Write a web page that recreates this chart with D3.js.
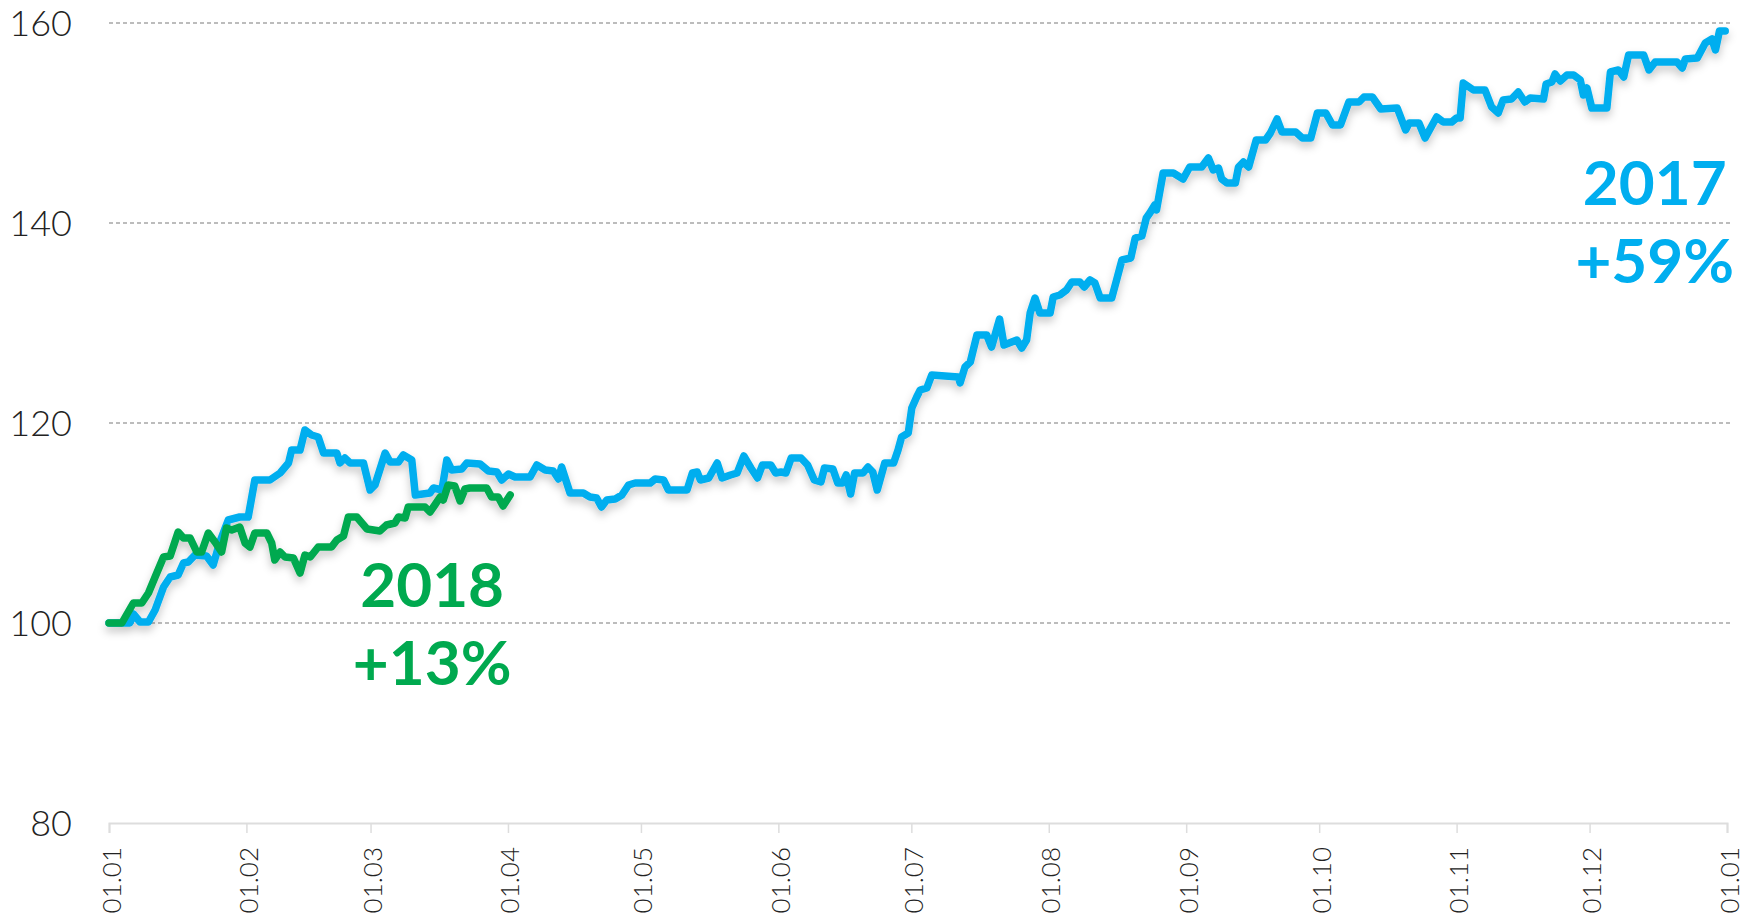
<!DOCTYPE html>
<html>
<head>
<meta charset="utf-8">
<script src="https://cdnjs.cloudflare.com/ajax/libs/d3/7.8.5/d3.min.js"></script>
<style>
  body { margin: 0; background: #fff; }
  svg { display: block; }
</style>
</head>
<body>
<div id="target_area"></div>
<script>
// days counted from 1 January (index, start = 100)
var days2017 = [0, 4.7, 5.5, 7, 8.9, 10.4, 12.3, 13.8, 15.6, 16.8, 17.9, 19.4, 22, 23.5, 25, 26.9, 29.5, 31.4, 32.9, 36.3,
  38.6, 40.5, 41.2, 43.1, 44.2, 45.7, 47.2, 48.4, 51.4, 52.1, 53.2, 54.4, 57.4, 58.9, 60, 62.3, 63.4, 65.3, 66.4, 68.3,
  69.1, 72.4, 73.2, 75.1, 76.2, 77.3, 79.6, 80.7, 83.7, 85.6, 87.5, 88.6, 90.1, 91.6, 95, 96.5, 98.4, 100.2, 101.4, 102.1,
  104, 107, 108.5, 110, 111.1, 112.3, 114.2, 115.7, 117.2, 118.7, 122.1, 123.2, 125.1, 126.2, 130.4, 131.6, 132.7, 133.4, 135.3, 137.2,
  138.3, 140.2, 141.7, 143.2, 144.8, 146.3, 147.4, 149.3, 150.4, 151.6, 152.7, 153.9, 156.1, 157.6, 159.1, 160.6, 161.4, 163.3, 164.4, 165.5,
  166.3, 167.3, 168.2, 170.1, 171.2, 172.3, 173.3, 175, 177, 178, 178.8, 180.3, 181.1, 182.2, 183, 184.5, 185.6, 191.6, 192, 193.1,
  194.3, 195.8, 198, 199.1, 200.9, 201.9, 204.8, 205.9, 207, 207.8, 208.9, 210, 212.3, 213, 214.5, 216, 217.2, 219, 220, 221.3,
  222.4, 223.6, 226.2, 227.3, 228.5, 230.5, 231.5, 233, 234, 234.8, 235.9, 236.3, 237.8, 240.1, 242.3, 243.8, 246.5, 248, 249.1, 250.3,
  251, 252.2, 254.1, 254.8, 255.9, 257.1, 258.8, 260.9, 262, 263.5, 264.6, 267.7, 269.2, 271.1, 272.6, 274.5, 276, 277.8, 279.7, 282,
  283.1, 285, 286.9, 290.6, 292.5, 293.3, 295.5, 296.9, 299.5, 301, 302.9, 304, 304.8, 305.5, 307.8, 310.4, 311.9, 313.4, 314.5, 316.4,
  317.9, 319.4, 320.6, 323.6, 324.2, 325.5, 326.2, 327.4, 328.9, 330.4, 331.9, 332.6, 333.4, 334.5, 337.9, 338.7, 340.5, 341.7, 342.8, 346.2,
  347.4, 348.8, 353.7, 354.9, 355.6, 358.3, 360.1, 361.6, 362.4, 363.3, 364.6];
var values2017 = [100, 100, 100.9, 100.1, 100.1, 101.3, 103.6, 104.6, 104.8, 106, 106.1, 106.8, 106.7, 105.8, 108.1, 110.3, 110.6, 110.6, 114.3, 114.3,
  115, 116, 117.3, 117.3, 119.3, 118.8, 118.6, 117, 117, 116, 116.5, 116, 116, 113.3, 113.8, 117, 116.1, 116.1, 116.8, 116.3,
  112.8, 113, 113.5, 113.3, 116.3, 115.3, 115.4, 116, 115.9, 115.2, 115.1, 114.3, 114.9, 114.6, 114.6, 115.8, 115.3, 115.2, 114.4, 115.6,
  113, 113, 112.6, 112.5, 111.6, 112.3, 112.4, 112.8, 113.8, 114, 114, 114.4, 114.3, 113.3, 113.3, 115, 115.1, 114.3, 114.5, 116,
  114.5, 114.8, 115, 116.7, 115.5, 114.5, 115.8, 115.8, 115, 115.1, 115, 116.5, 116.5, 115.8, 114.3, 114.1, 115.5, 115.4, 114, 114,
  114.8, 112.9, 115, 115, 115.6, 115.1, 113.3, 116, 116, 117.3, 118.6, 119, 121.5, 122.6, 123.3, 123.5, 124.8, 124.6, 124, 125.6,
  126.1, 128.8, 128.8, 127.6, 130.4, 127.8, 128.3, 127.5, 128.3, 131, 132.5, 131, 131, 132.6, 132.8, 133.3, 134.1, 134.1, 133.6, 134.3,
  134, 132.5, 132.5, 134.3, 136.3, 136.5, 138.5, 138.7, 140.5, 141, 141.8, 141.3, 145, 145, 144.4, 145.6, 145.6, 146.5, 145.3, 145.5,
  144.4, 144, 144, 145.6, 146.1, 145.6, 148.3, 148.3, 149, 150.4, 149.1, 149.1, 148.5, 148.5, 151, 151, 149.8, 149.8, 152.1, 152.1,
  152.6, 152.6, 151.4, 151.5, 149.3, 150, 150, 148.5, 150.6, 150.1, 150.1, 150.5, 150.5, 154, 153.3, 153.3, 151.6, 151, 152.3, 152.4,
  153.1, 152.1, 152.5, 152.4, 153.9, 154.1, 154.9, 154.2, 154.8, 154.8, 154.3, 152.8, 153.5, 151.5, 151.5, 155.1, 155.3, 154.6, 156.8, 156.8,
  155.3, 156.1, 156.1, 155.5, 156.4, 156.5, 158, 158.4, 157.3, 159.2, 159.2];

var days2018 = [0, 2.9, 5.5, 7.4, 8.9, 10.4, 12.3, 13.8, 15.6, 16.8, 18.3, 19.8, 20.9, 22.4, 23.9, 25.4, 26.5, 27.7, 29.5, 30.7,
  31.8, 32.9, 35.6, 36.7, 37.4, 38.6, 39.7, 41.6, 43.1, 44.2, 45.4, 47.2, 50.2, 51.4, 52.9, 54, 55.9, 58.2, 61.1, 62.6,
  64.5, 65.3, 66.8, 67.5, 71.3, 72.4, 73.5, 74.7, 75.4, 76.5, 78, 79.2, 80.3, 81.4, 85.2, 86.3, 87.8, 88.9, 90.5];
var values2018 = [100, 100, 102, 102, 103, 104.6, 106.6, 106.7, 109.1, 108.5, 108.5, 107.1, 107.1, 109, 108.1, 107.1, 109.5, 109.3, 109.6, 108,
  107.6, 109, 109, 108, 106.3, 107.1, 106.6, 106.5, 105, 106.8, 106.6, 107.6, 107.6, 108.3, 108.7, 110.6, 110.6, 109.4, 109.2, 109.8,
  110, 110.6, 110.5, 111.6, 111.6, 111.1, 111.8, 112.6, 112.3, 113.8, 113.7, 112.2, 113.4, 113.5, 113.5, 112.6, 112.6, 111.7, 112.8];

var yTicks = [80, 100, 120, 140, 160];
// where the year captions sit (day, value of the first baseline)
var labels = [
  {year: "2017", change: "+59%", day: 348.7, value: 141.8},
  {year: "2018", change: "+13%", day: 72.9, value: 101.6}
];
var colors = {"2017": "#00aeef", "2018": "#00a94f"};

var width = 1763, height = 919;
var margin = {top: 23, right: 36, bottom: 96, left: 109};

var start = new Date(2017, 0, 1), end = new Date(2018, 0, 1);
function toDate(d) { return new Date(start.getTime() + d * 86400000); }

var x = d3.scaleTime().domain([start, end]).range([margin.left, width - margin.right]);
var y = d3.scaleLinear().domain([80, 160]).range([height - margin.bottom, margin.top]);

var svg = d3.select("#target_area")
  .append("svg")
  .attr("width", width)
  .attr("height", height)
  .style("font-family", "Lato, 'Open Sans', sans-serif");

// soft shadow under the lines
var filter = svg.append("defs").append("filter")
  .attr("id", "shadow")
  .attr("x", "-5%").attr("y", "-20%")
  .attr("width", "110%").attr("height", "140%");
filter.append("feDropShadow")
  .attr("dx", 0).attr("dy", 5)
  .attr("stdDeviation", 4)
  .attr("flood-color", "#000")
  .attr("flood-opacity", 0.22);

// dashed grid lines
svg.append("g")
  .selectAll("line")
  .data(yTicks.filter(function (d) { return d > 80; }))
  .enter().append("line")
  .attr("x1", x.range()[0])
  .attr("x2", x.range()[1] + 3)
  .attr("y1", function (d) { return y(d); })
  .attr("y2", function (d) { return y(d); })
  .attr("stroke", "#a6a6a6")
  .attr("stroke-width", 1.5)
  .attr("stroke-dasharray", "4,3");

// y labels
svg.append("g")
  .selectAll("text")
  .data(yTicks)
  .enter().append("text")
  .attr("x", 72)
  .attr("y", function (d) { return y(d) + 12.5; })
  .attr("text-anchor", "end")
  .style("font-size", "36px")
  .style("font-weight", 300)
  .attr("fill", "#222")
  .text(function (d) { return d; });

// x axis
var xAxis = svg.append("g")
  .attr("transform", "translate(0," + y(80) + ")")
  .call(d3.axisBottom(x)
    .ticks(d3.timeMonth.every(1))
    .tickFormat(d3.timeFormat("%d.%m"))
    .tickSize(10)
    .tickPadding(0));
xAxis.select(".domain").attr("stroke", "#ddd").attr("stroke-width", 2);
xAxis.selectAll(".tick line").attr("stroke", "#ddd").attr("stroke-width", 1.5);
xAxis.selectAll(".tick text")
  .attr("transform", "translate(1,24) rotate(-90)")
  .attr("x", 0).attr("y", 0).attr("dy", null)
  .attr("text-anchor", "end")
  .attr("dominant-baseline", "central")
  .style("font-family", "Lato, sans-serif")
  .style("font-size", "26px")
  .style("font-weight", 300)
  .attr("fill", "#222");

var line = d3.line()
  .x(function (d) { return x(toDate(d.day)); })
  .y(function (d) { return y(d.value); });

var series = [
  {year: "2017", points: days2017.map(function (d, i) { return {day: d, value: values2017[i]}; })},
  {year: "2018", points: days2018.map(function (d, i) { return {day: d, value: values2018[i]}; })}
];

svg.append("g")
  .attr("filter", "url(#shadow)")
  .selectAll("path")
  .data(series)
  .enter().append("path")
  .attr("d", function (d) { return line(d.points); })
  .attr("fill", "none")
  .attr("stroke", function (d) { return colors[d.year]; })
  .attr("stroke-width", 7.5)
  .attr("stroke-linejoin", "round")
  .attr("stroke-linecap", "round");

// year captions
var lab = svg.append("g")
  .selectAll("g")
  .data(labels)
  .enter().append("g")
  .attr("transform", function (d) { return "translate(" + x(toDate(d.day)) + "," + y(d.value) + ")"; })
  .attr("fill", function (d) { return colors[d.year]; })
  .attr("text-anchor", "middle")
  .style("font-size", "62px")
  .style("font-weight", 700);
lab.append("text").attr("y", 0).text(function (d) { return d.year; });
lab.append("text").attr("y", 78).text(function (d) { return d.change; });
</script>
</body>
</html>
